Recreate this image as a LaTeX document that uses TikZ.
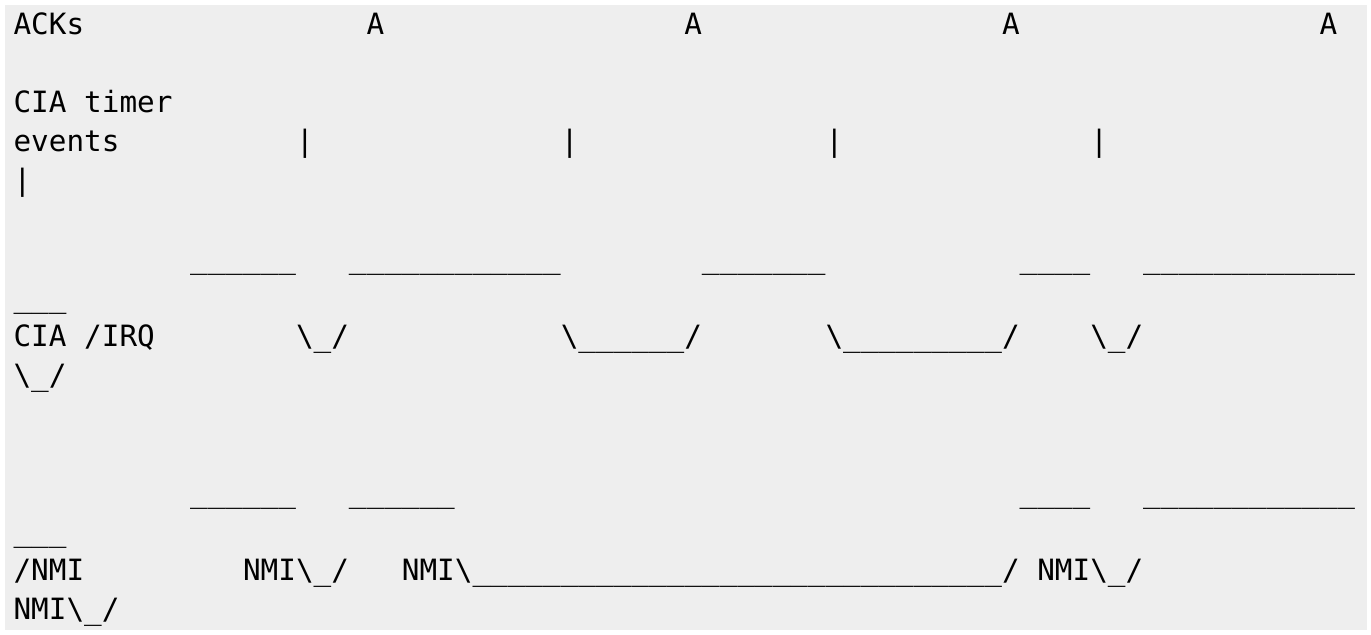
\documentclass[tikz,border=0pt]{standalone}
\usepackage{fontspec}
\setmonofont{DejaVu Sans Mono}
\definecolor{pagebg}{HTML}{EEEEEE}
\newcommand{\lows}[1]{\foreach \k in {1,...,#1}{\_}}
\begin{document}
\begin{tikzpicture}[x=8.825pt,y=-19.5pt,
    txt/.style={anchor=base west,inner sep=0pt,font=\fontsize{14.66pt}{19.5pt}\selectfont\ttfamily}]
    \useasboundingbox (-6.6pt,17.5pt) rectangle (678.9pt,-300pt);
    \fill[pagebg] (-4.1pt,15pt) rectangle (676.9pt,-297.5pt);
    % ACKs
    \node[txt] (acks) at (0,0) {ACKs};
    \foreach \c in {20,38,56,74}
        \node[txt] (ack\c) at (\c,0) {A};
    % CIA timer events
    \node[txt] (cialabel) at (0,2) {CIA timer};
    \node[txt] (evlabel) at (0,3) {events};
    \foreach \c in {16,31,46,61}
        \node[txt] (ev\c) at (\c,3) {|};
    \node[txt] (evwrap) at (0,4) {|};
    % CIA /IRQ
    \node[txt] (irqhiA) at (10,6) {\lows{6}};
    \node[txt] (irqhiB) at (19,6) {\lows{12}};
    \node[txt] (irqhiC) at (39,6) {\lows{7}};
    \node[txt] (irqhiD) at (57,6) {\lows{4}};
    \node[txt] (irqhiE) at (64,6) {\lows{12}};
    \node[txt] (irqhiwrap) at (0,7) {\lows{3}};
    \node[txt] (irqlabel) at (0,8) {CIA /IRQ};
    \node[txt] (irqloA) at (16,8) {\textbackslash\_/};
    \node[txt] (irqloB) at (31,8) {\textbackslash\lows{6}/};
    \node[txt] (irqloC) at (46,8) {\textbackslash\lows{9}/};
    \node[txt] (irqloD) at (61,8) {\textbackslash\_/};
    \node[txt] (irqlowrap) at (0,9) {\textbackslash\_/};
    % /NMI
    \node[txt] (nmihiA) at (10,12) {\lows{6}};
    \node[txt] (nmihiB) at (19,12) {\lows{6}};
    \node[txt] (nmihiC) at (57,12) {\lows{4}};
    \node[txt] (nmihiD) at (64,12) {\lows{12}};
    \node[txt] (nmihiwrap) at (0,13) {\lows{3}};
    \node[txt] (nmilabel) at (0,14) {/NMI};
    \node[txt] (nmiloA) at (13,14) {NMI\textbackslash\_/};
    \node[txt] (nmiloB) at (22,14) {NMI\textbackslash\lows{30}/};
    \node[txt] (nmiloC) at (58,14) {NMI\textbackslash\_/};
    \node[txt] (nmilowrap) at (0,15) {NMI\textbackslash\_/};
\end{tikzpicture}
\end{document}
